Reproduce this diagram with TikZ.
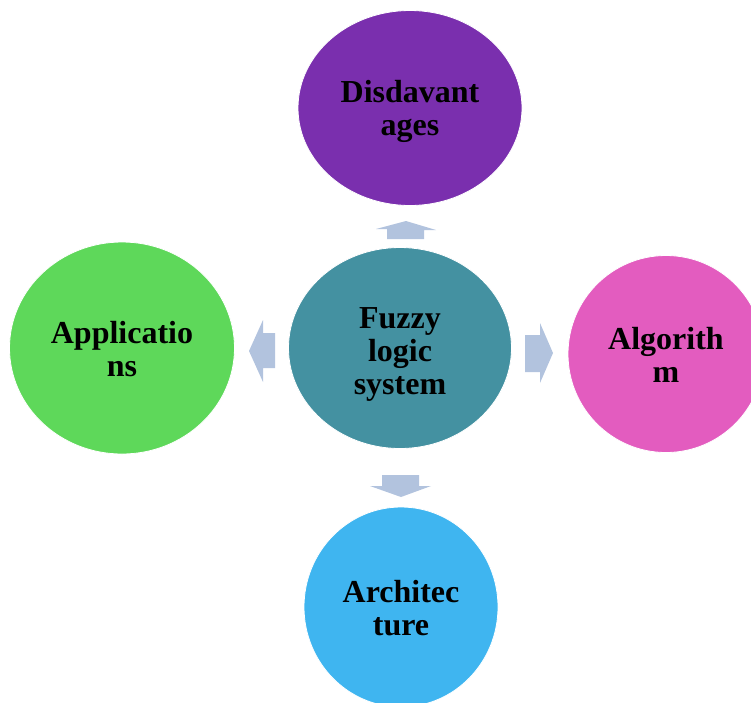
\documentclass[tikz,border=0pt]{standalone}
\usepackage{fontspec}
\setmainfont{Liberation Serif}
\definecolor{cpurple}{HTML}{7A2FAE}
\definecolor{cteal}{HTML}{4491A1}
\definecolor{cgreen}{HTML}{5ED85A}
\definecolor{cpink}{HTML}{E35CBF}
\definecolor{cblue}{HTML}{3FB5F0}
\definecolor{carrow}{HTML}{B2C3DE}
\tikzset{
  bubble/.style={ellipse, draw=white, line width=0.8pt, inner sep=0pt,
    align=center, font=\bfseries\fontsize{32}{33}\selectfont, text=black},
  blockarrow/.style={fill=carrow, draw=none}
}
\usetikzlibrary{shapes.geometric}
\begin{document}
\begin{tikzpicture}[x=1pt,y=-1pt]
\useasboundingbox (0,0) rectangle (751,702);
\clip (0,0) rectangle (751,702);
% circles
\node[bubble, fill=cteal, minimum width=223, minimum height=201] (core) at (400,348) {};
\node[bubble, fill=cpurple, minimum width=224, minimum height=195] (dis) at (410,108) {};
\node[bubble, fill=cgreen, minimum width=225, minimum height=212] (app) at (122,348) {};
\node[bubble, fill=cpink, minimum width=196, minimum height=197] (alg) at (666,354) {};
\node[bubble, fill=cblue, minimum width=194, minimum height=200] (arch) at (401,607) {};
% labels
\node[bubble, draw=none] at (400,354) {Fuzzy\\logic\\system};
\node[bubble, draw=none] at (410,111) {Disdavant\\ages};
\node[bubble, draw=none] at (122,349) {Applicatio\\ns};
\node[bubble, draw=none] at (666,355) {Algorith\\m};
\node[bubble, draw=none] at (401,608) {Architec\\ture};
% block arrows from the core outwards
\fill[blockarrow] (387,239) -- (387,229) -- (376,229) -- (406,221) -- (436,230) -- (424,230) -- (424,239) -- cycle;
\fill[blockarrow] (382,475) -- (419,475) -- (419,486) -- (431,486) -- (401,497) -- (370,486) -- (382,486) -- cycle;
\fill[blockarrow] (275,333) -- (275,368) -- (263,368) -- (263,382) -- (249,351) -- (263,320) -- (263,333) -- cycle;
\fill[blockarrow] (525,335) -- (540,335) -- (540,323) -- (553,353) -- (540,383) -- (540,372) -- (525,372) -- cycle;
\end{tikzpicture}
\end{document}
